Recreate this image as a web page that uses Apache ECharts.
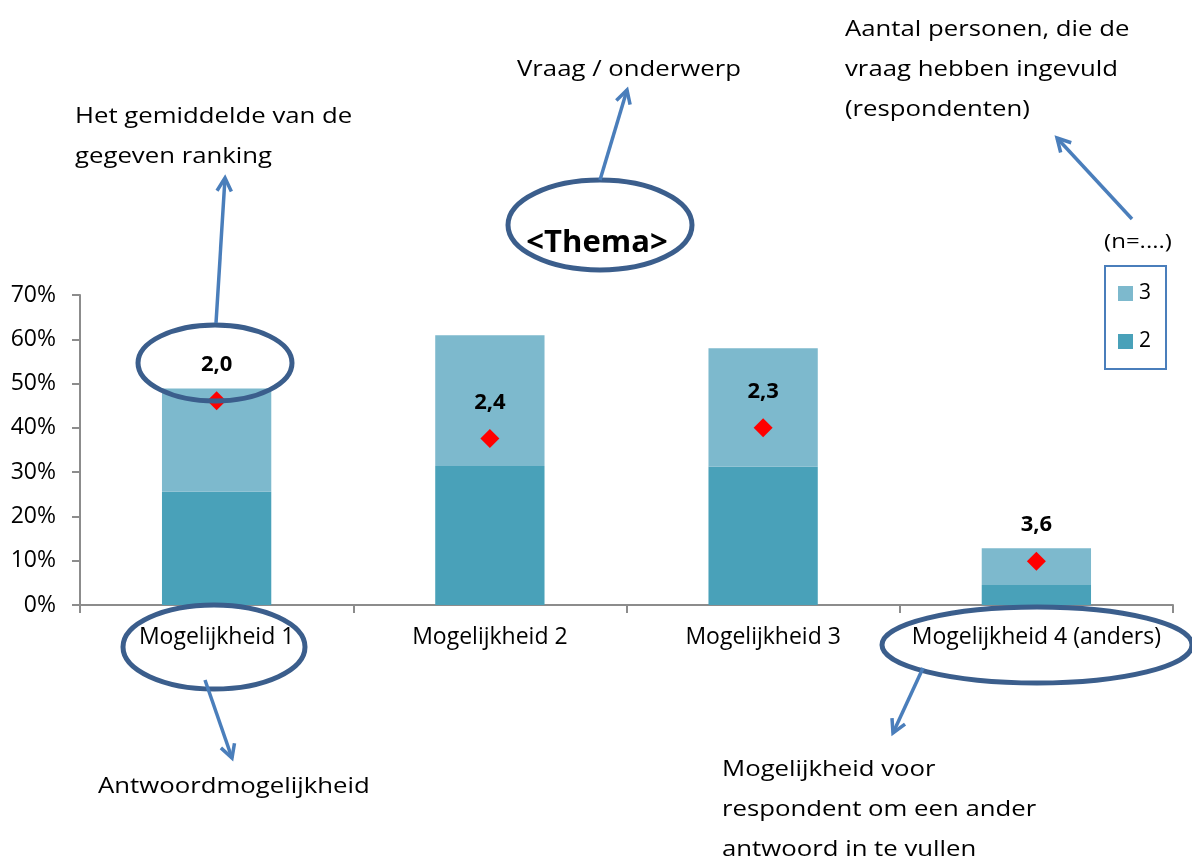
<!DOCTYPE html>
<html>
<head>
<meta charset="utf-8">
<script src="https://cdn.jsdelivr.net/npm/echarts@6/dist/echarts.min.js"></script>
<style>
  html, body { margin: 0; padding: 0; background: #fff; }
  #chart { width: 1192px; height: 861px; }
</style>
</head>
<body>
<div id="chart"></div>
<script>
// data
var categories = ['Mogelijkheid 1', 'Mogelijkheid 2', 'Mogelijkheid 3', 'Mogelijkheid 4 (anders)'];
var rank2 = [25.6, 31.4, 31.2, 4.5];      // dark part (%)
var rank3 = [23.3, 29.5, 26.8, 8.3];      // light part on top (%)
var avgPos = [46.1, 37.6, 40.0, 9.9];     // red diamond position (%)
var avgRank = [2.0, 2.4, 2.3, 3.6];       // mean ranking shown as label
var yTicks = [0, 10, 20, 30, 40, 50, 60, 70];

var FONT = 'Open Sans';
var ARROW = '#4a7ebb';
var RING = '#3b5e8c';

function arrow(x1, y1, x2, y2) {
    // line from (x1,y1) to tip (x2,y2) with an open head
    var a = Math.atan2(y2 - y1, x2 - x1), len = 15, sp = 0.5;
    var h1 = [x2 - len * Math.cos(a - sp), y2 - len * Math.sin(a - sp)];
    var h2 = [x2 - len * Math.cos(a + sp), y2 - len * Math.sin(a + sp)];
    return [
        { type: 'polyline', z: 100, shape: { points: [[x1, y1], [x2, y2]] }, style: { stroke: ARROW, lineWidth: 3.5, fill: null } },
        { type: 'polyline', z: 100, shape: { points: [h1, [x2, y2], h2] }, style: { stroke: ARROW, lineWidth: 3.5, fill: null, lineJoin: 'miter' } }
    ];
}
function ring(cx, cy, rx, ry) {
    return { type: 'ellipse', z: 100, shape: { cx: cx, cy: cy, rx: rx, ry: ry }, style: { stroke: RING, lineWidth: 5, fill: null } };
}
function note(x, y, txt) {
    // the source picture is a bit wider than the font, stretch a little
    return { type: 'text', z: 100, x: x, y: y, scaleX: 1.17, style: { text: txt, fontFamily: FONT, fontSize: 22, lineHeight: 40, fill: '#000', verticalAlign: 'top' } };
}

var graphics = [
    note(75, 97, 'Het gemiddelde van de\ngegeven ranking'),
    note(845, 10, 'Aantal personen, die de\nvraag hebben ingevuld\n(respondenten)'),
    note(517, 50, 'Vraag / onderwerp'),
    note(98, 767, 'Antwoordmogelijkheid'),
    note(722, 750, 'Mogelijkheid voor\nrespondent om een ander\nantwoord in te vullen'),
    { type: 'text', z: 100, x: 1138, y: 242, scaleX: 1.2, style: { text: '(n=....)', fontFamily: FONT, fontSize: 20, fill: '#000', align: 'center', verticalAlign: 'middle' } },
    { type: 'text', z: 100, x: 597, y: 243, style: { text: '<Thema>', fontFamily: FONT, fontSize: 31, fontWeight: 'bold', fill: '#000', align: 'center', verticalAlign: 'middle' } },
    ring(600, 225, 92, 45),
    ring(215, 363, 77, 38),
    ring(214, 647, 91, 42),
    ring(1037, 645, 155, 38)
];
graphics = graphics
    .concat(arrow(216, 323, 225, 178))
    .concat(arrow(600, 180, 627, 90))
    .concat(arrow(1132, 219, 1057, 138))
    .concat(arrow(205, 680, 232, 758))
    .concat(arrow(923, 668, 893, 733));

var chart = echarts.init(document.getElementById('chart'));
chart.setOption({
    animation: false,
    backgroundColor: '#fff',
    textStyle: { fontFamily: FONT },
    grid: { left: 80, right: 19, top: 295, bottom: 256, containLabel: false },
    legend: {
        data: ['3', '2'],
        orient: 'vertical',
        left: 1105, top: 266,
        width: 60,
        padding: [17, 15, 17, 13],
        itemGap: 27,
        itemWidth: 15, itemHeight: 15,
        icon: 'rect',
        borderColor: '#4a7ebb', borderWidth: 2,
        textStyle: { fontFamily: FONT, fontSize: 21, color: '#000', padding: [0, 0, 0, 1] }
    },
    xAxis: {
        type: 'category',
        data: categories,
        axisLine: { lineStyle: { color: '#8c8c8c', width: 2 } },
        axisTick: { show: true, length: 8, lineStyle: { color: '#8c8c8c', width: 2 } },
        axisLabel: { color: '#000', fontSize: 23, fontFamily: FONT, margin: 21, interval: 0 }
    },
    yAxis: [{
        type: 'value',
        min: yTicks[0], max: yTicks[yTicks.length - 1], interval: 10,
        axisLine: { show: true, lineStyle: { color: '#8c8c8c', width: 2 } },
        axisTick: { show: true, length: 8, lineStyle: { color: '#8c8c8c', width: 2 } },
        splitLine: { show: false },
        axisLabel: { color: '#000', fontSize: 23, fontFamily: FONT, margin: 24, formatter: '{value}%' }
    }],
    series: [
        { name: '2', type: 'bar', stack: 'r', data: rank2, barWidth: '40%', itemStyle: { color: '#49a1b9' } },
        { name: '3', type: 'bar', stack: 'r', data: rank3, barWidth: '40%', itemStyle: { color: '#7db9cd' } },
        {
            name: 'gem', type: 'scatter', data: avgPos, symbol: 'diamond', symbolSize: 19, z: 5,
            itemStyle: { color: '#ff0000', opacity: 1 },
            label: {
                show: true, position: 'inside', offset: [0, -36],
                fontFamily: FONT, fontSize: 22, fontWeight: 'bold', color: '#000',
                formatter: function (p) { return avgRank[p.dataIndex].toFixed(1).replace('.', ','); }
            }
        }
    ],
    graphic: graphics
});
</script>
</body>
</html>
